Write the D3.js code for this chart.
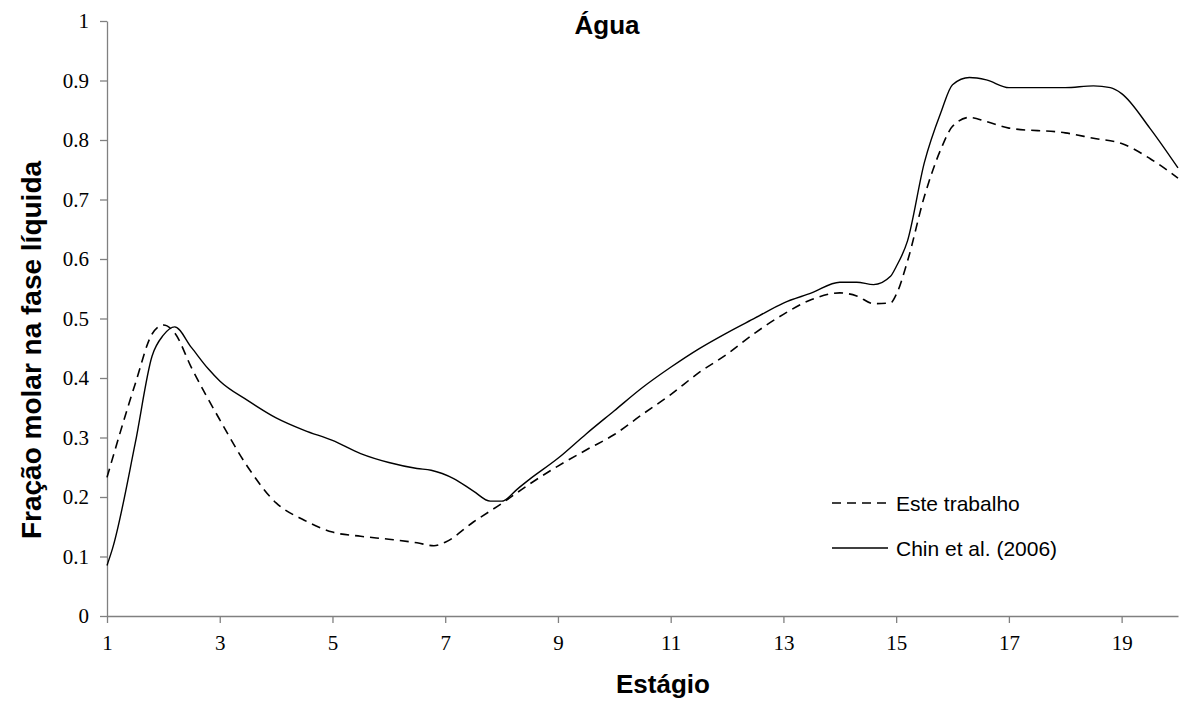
<!DOCTYPE html>
<html>
<head>
<meta charset="utf-8">
<script src="https://cdn.jsdelivr.net/npm/d3@7"></script>
<style>
  body { margin: 0; background: #fff; }
</style>
</head>
<body>
<div id="chart"></div>
<script>
// stage positions (fractional points trace the smoothed curves) and molar fractions
var estagioEste = [1, 1.5, 1.8, 2, 2.2, 2.5, 3, 3.5, 4, 4.5, 5, 5.5, 6, 6.5, 6.8, 7, 7.5, 8, 8.5, 9, 9.5, 10, 10.5, 11, 11.5, 12, 12.5, 13, 13.5, 14, 14.3, 14.6, 14.9, 15, 15.2, 15.5, 15.8, 16, 16.3, 16.6, 17, 18, 18.5, 19, 19.5, 20];
var fracaoEste = [0.233, 0.39, 0.474, 0.489, 0.476, 0.417, 0.33, 0.25, 0.19, 0.161, 0.141, 0.134, 0.129, 0.123, 0.118, 0.124, 0.158, 0.189, 0.222, 0.252, 0.279, 0.305, 0.339, 0.372, 0.409, 0.44, 0.476, 0.507, 0.532, 0.543, 0.538, 0.525, 0.526, 0.54, 0.596, 0.705, 0.786, 0.823, 0.838, 0.831, 0.82, 0.812, 0.803, 0.794, 0.769, 0.736];

var estagioChin = [1, 1.1, 1.5, 1.8, 2, 2.2, 2.5, 2.8, 3, 3.5, 4, 4.5, 5, 5.5, 6, 6.5, 6.75, 7.15, 7.5, 7.8, 8, 8.3, 8.5, 9, 9.5, 10, 10.5, 11, 11.5, 12, 12.5, 13, 13.5, 14, 14.3, 14.6, 14.9, 15, 15.2, 15.5, 15.8, 16, 16.3, 16.6, 17, 18, 18.5, 18.8, 19, 19.5, 20];
var fracaoChin = [0.085, 0.114, 0.29, 0.437, 0.472, 0.486, 0.451, 0.415, 0.395, 0.362, 0.333, 0.312, 0.295, 0.273, 0.258, 0.248, 0.245, 0.231, 0.21, 0.193, 0.193, 0.215, 0.23, 0.265, 0.306, 0.345, 0.384, 0.418, 0.449, 0.476, 0.501, 0.526, 0.543, 0.561, 0.561, 0.557, 0.571, 0.587, 0.63, 0.762, 0.848, 0.893, 0.905, 0.901, 0.888, 0.888, 0.891, 0.888, 0.878, 0.82, 0.753];

var xTicks = [1, 3, 5, 7, 9, 11, 13, 15, 17, 19];
var yTicks = [0, 0.1, 0.2, 0.3, 0.4, 0.5, 0.6, 0.7, 0.8, 0.9, 1];

var width = 1179, height = 711;

var svg = d3.select("#chart")
  .append("svg")
  .attr("width", width)
  .attr("height", height);

var x = d3.scaleLinear().domain([1, 20]).range([107, 1178]);
var y = d3.scaleLinear().domain([0, 1]).range([616, 21]);

// axes
var xAxis = svg.append("g")
  .attr("transform", "translate(0," + y(0) + ")")
  .call(d3.axisBottom(x).tickValues(xTicks).tickSize(7).tickPadding(12).tickFormat(d3.format("d")).tickSizeOuter(0));

var yAxis = svg.append("g")
  .attr("transform", "translate(" + x(1) + ",0)")
  .call(d3.axisLeft(y).tickValues(yTicks).tickSize(7).tickPadding(11).tickFormat(function (d) { return d === 0 || d === 1 ? d : d.toFixed(1); }).tickSizeOuter(0));

[xAxis, yAxis].forEach(function (a) {
  a.select(".domain").attr("stroke", "#808080").attr("stroke-width", 1.3);
  a.selectAll(".tick line").attr("stroke", "#808080").attr("stroke-width", 1.3);
  a.selectAll(".tick text")
    .attr("fill", "#000")
    .style("font-family", "'Liberation Serif', 'Times New Roman', serif")
    .style("font-size", "21px");
});

// lines
var line = d3.line()
  .x(function (d) { return x(d[0]); })
  .y(function (d) { return y(d[1]); })
  .curve(d3.curveMonotoneX);

svg.append("path")
  .datum(d3.zip(estagioChin, fracaoChin))
  .attr("fill", "none")
  .attr("stroke", "#000")
  .attr("stroke-width", 1.4)
  .attr("d", line);

svg.append("path")
  .datum(d3.zip(estagioEste, fracaoEste))
  .attr("fill", "none")
  .attr("stroke", "#000")
  .attr("stroke-width", 1.6)
  .attr("stroke-dasharray", "9,6")
  .attr("d", line);

// titles
svg.append("text")
  .attr("x", 607).attr("y", 34)
  .attr("text-anchor", "middle")
  .style("font-family", "'Liberation Sans', Arial, sans-serif")
  .style("font-weight", "bold")
  .style("font-size", "26px")
  .text("Água");

svg.append("text")
  .attr("x", 663).attr("y", 693)
  .attr("text-anchor", "middle")
  .style("font-family", "'Liberation Sans', Arial, sans-serif")
  .style("font-weight", "bold")
  .style("font-size", "26px")
  .text("Estágio");

svg.append("text")
  .attr("transform", "translate(41,350) rotate(-90)")
  .attr("text-anchor", "middle")
  .style("font-family", "'Liberation Sans', Arial, sans-serif")
  .style("font-weight", "bold")
  .style("font-size", "28px")
  .text("Fração molar na fase líquida");

// legend
var legend = [
  { label: "Este trabalho", dash: "9,6", y: 503 },
  { label: "Chin et al. (2006)", dash: null, y: 548 }
];
legend.forEach(function (l) {
  svg.append("line")
    .attr("x1", 832).attr("x2", 888)
    .attr("y1", l.y).attr("y2", l.y)
    .attr("stroke", "#000")
    .attr("stroke-width", l.dash ? 1.6 : 1.4)
    .attr("stroke-dasharray", l.dash);
  svg.append("text")
    .attr("x", 896).attr("y", l.y + 8)
    .style("font-family", "'Liberation Sans', Arial, sans-serif")
    .style("font-size", "21px")
    .text(l.label);
});
</script>
</body>
</html>
